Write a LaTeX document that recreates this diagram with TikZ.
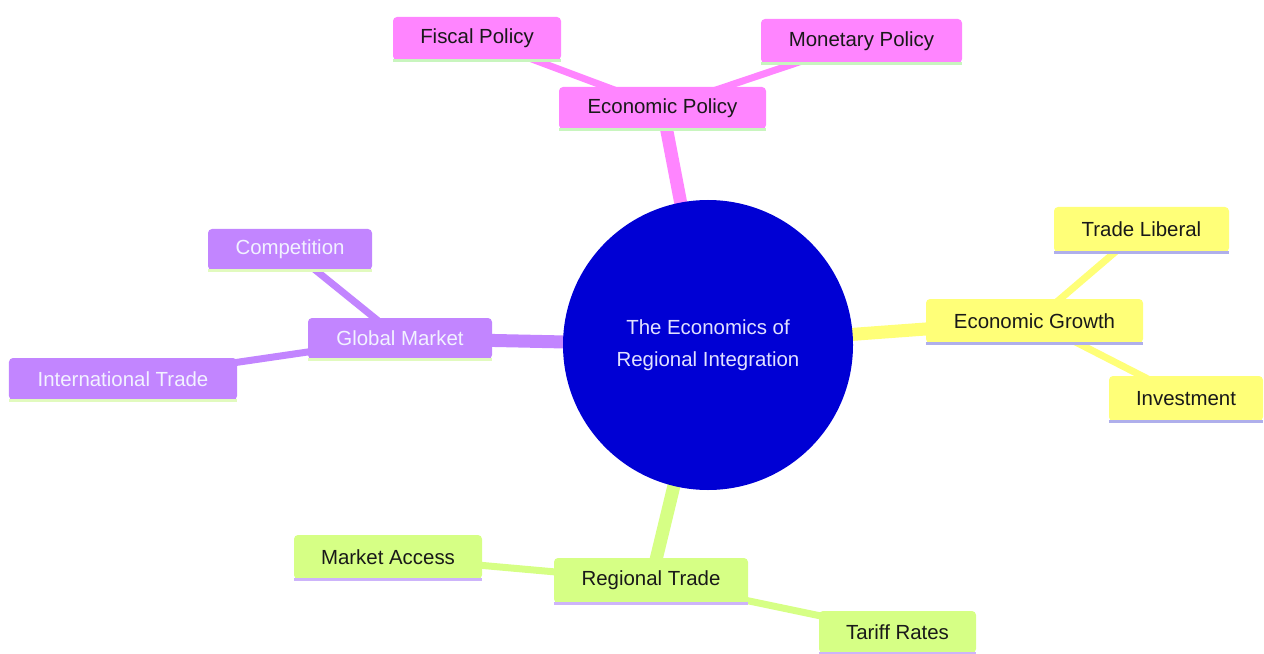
\documentclass[tikz,border=0pt]{standalone}
\usepackage{fontspec}
\setmainfont{Liberation Sans}
\pgfdeclarelayer{bg}
\pgfsetlayers{bg,main}
\definecolor{rootc}{RGB}{0,0,212}
\definecolor{pinkc}{RGB}{255,133,255}
\definecolor{yelc}{RGB}{255,255,120}
\definecolor{grnc}{RGB}{214,255,133}
\definecolor{purc}{RGB}{194,133,255}
\definecolor{ulgreen}{RGB}{200,245,190}
\definecolor{ullav}{RGB}{175,175,235}
\definecolor{ulpur}{RGB}{205,180,250}
\definecolor{ulyel}{RGB}{225,250,190}
\definecolor{roottext}{RGB}{225,225,255}
\begin{document}
\begin{tikzpicture}[x=1bp,y=-1bp,
  box/.style={rectangle, rounded corners=4bp, inner sep=0pt, font=\fontsize{20.5}{24}\selectfont},
  pinkbox/.style={box, fill=pinkc, text=black!90},
  yelbox/.style={box, fill=yelc, text=black!90},
  purbox/.style={box, fill=purc, text=white!95!blue},
  grnbox/.style={box, fill=grnc, text=black!90},
  ul/.style={line width=3bp},
  trunk/.style={line width=13bp},
  twig/.style={line width=7bp}]
\useasboundingbox (0,0) rectangle (1264,654);

\node[circle, fill=rootc, minimum size=290bp, inner sep=0pt, text=roottext,
      align=center, font=\fontsize{20.5}{32}\selectfont] (root) at (708,345)
      {The Economics of\\Regional Integration};

% Economic Policy section
\node[pinkbox, minimum width=207bp, minimum height=42bp] (ep) at (662.5,108) {Economic Policy};
\node[pinkbox, minimum width=168bp, minimum height=43bp] (fp) at (477,38.5) {Fiscal Policy};
\node[pinkbox, minimum width=201bp, minimum height=44bp] (mp) at (861.5,41) {Monetary Policy};

% Economic Growth section
\node[yelbox, minimum width=217bp, minimum height=44bp] (eg) at (1034.5,321) {Economic Growth};
\node[yelbox, minimum width=175bp, minimum height=45bp] (tl) at (1141.5,229.5) {Trade Liberal};
\node[yelbox, minimum width=154bp, minimum height=45bp] (inv) at (1186,398.5) {Investment};

% Global Market section
\node[purbox, minimum width=184bp, minimum height=41bp] (gm) at (400,338.5) {Global Market};
\node[purbox, minimum width=164bp, minimum height=41bp] (comp) at (290,249.5) {Competition};
\node[purbox, minimum width=228bp, minimum height=42bp] (it) at (123,379) {International Trade};

% Regional Trade section
\node[grnbox, minimum width=194bp, minimum height=45bp] (rt) at (651,580.5) {Regional Trade};
\node[grnbox, minimum width=188bp, minimum height=44bp] (ma) at (388,557) {Market Access};
\node[grnbox, minimum width=157bp, minimum height=42bp] (tr) at (897.5,632) {Tariff Rates};

% underlines
\foreach \n in {ep,fp,mp}{\draw[ul, ulgreen] (\n.south west) -- (\n.south east);}
\foreach \n in {eg,tl,inv}{\draw[ul, ullav] (\n.south west) -- (\n.south east);}
\foreach \n in {gm,comp,it}{\draw[ul, ulyel] (\n.south west) -- (\n.south east);}
\foreach \n in {rt,ma,tr}{\draw[ul, ulpur] (\n.south west) -- (\n.south east);}

\begin{pgfonlayer}{bg}
\draw[trunk, pinkc] (root.center) -- (ep.center);
\draw[trunk, yelc] (root.center) -- (eg.center);
\draw[trunk, purc] (root.center) -- (gm.center);
\draw[trunk, grnc] (root.center) -- (rt.center);
\draw[twig, pinkc] (ep.center) -- (fp.center);
\draw[twig, pinkc] (ep.center) -- (mp.center);
\draw[twig, yelc] (eg.center) -- (tl.center);
\draw[twig, yelc] (eg.center) -- (inv.center);
\draw[twig, purc] (gm.center) -- (comp.center);
\draw[twig, purc] (gm.center) -- (it.center);
\draw[twig, grnc] (rt.center) -- (ma.center);
\draw[twig, grnc] (rt.center) -- (tr.center);
\end{pgfonlayer}
\end{tikzpicture}
\end{document}
